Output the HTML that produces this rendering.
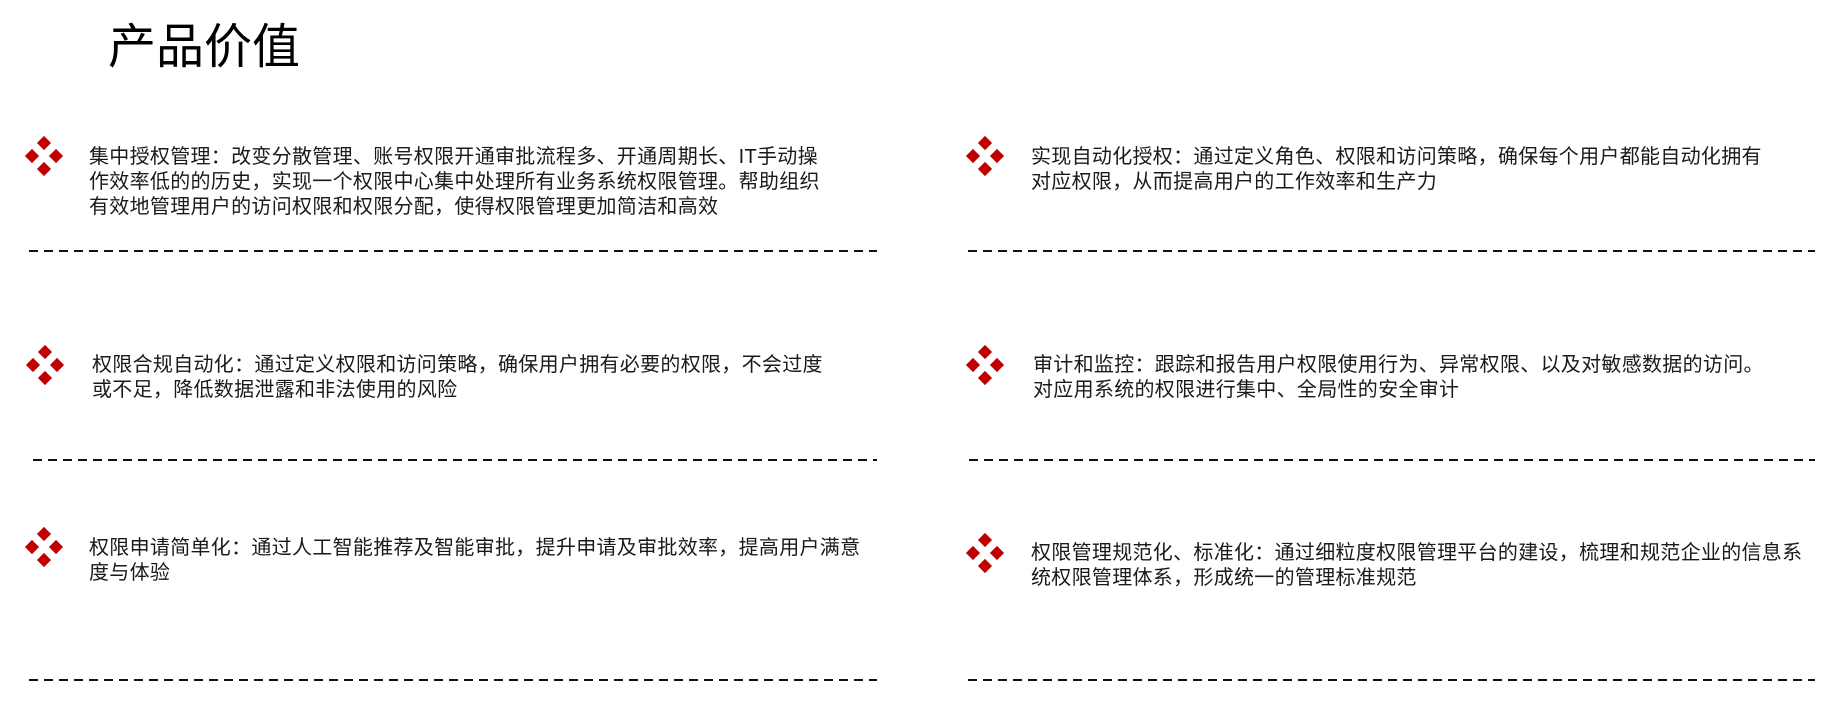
<!DOCTYPE html>
<html><head><meta charset="utf-8"><style>
html,body{margin:0;padding:0;background:#fff;}
body{width:1844px;height:718px;position:relative;overflow:hidden;font-family:"Liberation Sans","Noto Sans CJK SC",sans-serif;color:#1a1a1a;}
.t{position:absolute;left:108px;top:14px;font-size:48px;line-height:68px;color:#000;}
.p{position:absolute;font-size:20px;letter-spacing:0.3px;line-height:25px;white-space:nowrap;}
.d{position:absolute;height:2px;background:repeating-linear-gradient(90deg,#111 0 9px,transparent 9px 15px);}
.ic{position:absolute;width:38px;height:38px;}
.ic i{position:absolute;width:10px;height:10px;background:#c00000;transform:rotate(45deg);}
.ic i:nth-child(1){left:14px;top:1px}
.ic i:nth-child(2){left:2px;top:14px}
.ic i:nth-child(3){left:26px;top:14px}
.ic i:nth-child(4){left:14px;top:27px}
</style></head><body>
<div class="t">产品价值</div>

<div class="ic" style="left:25px;top:137px"><i></i><i></i><i></i><i></i></div>
<div class="p" style="left:89px;top:145px">集中授权管理：改变分散管理、账号权限开通审批流程多、开通周期长、IT手动操<br>作效率低的的历史，实现一个权限中心集中处理所有业务系统权限管理。帮助组织<br>有效地管理用户的访问权限和权限分配，使得权限管理更加简洁和高效</div>
<div class="d" style="left:29px;width:848px;top:250px"></div>

<div class="ic" style="left:26px;top:346px"><i></i><i></i><i></i><i></i></div>
<div class="p" style="left:92px;top:353px">权限合规自动化：通过定义权限和访问策略，确保用户拥有必要的权限，不会过度<br>或不足，降低数据泄露和非法使用的风险</div>
<div class="d" style="left:33px;width:844px;top:459px"></div>

<div class="ic" style="left:25px;top:528px"><i></i><i></i><i></i><i></i></div>
<div class="p" style="left:89px;top:536px">权限申请简单化：通过人工智能推荐及智能审批，提升申请及审批效率，提高用户满意<br>度与体验</div>
<div class="d" style="left:29px;width:848px;top:679px"></div>

<div class="ic" style="left:966px;top:137px"><i></i><i></i><i></i><i></i></div>
<div class="p" style="left:1031px;top:145px">实现自动化授权：通过定义角色、权限和访问策略，确保每个用户都能自动化拥有<br>对应权限，从而提高用户的工作效率和生产力</div>
<div class="d" style="left:968px;width:847px;top:250px"></div>

<div class="ic" style="left:966px;top:346px"><i></i><i></i><i></i><i></i></div>
<div class="p" style="left:1033px;top:353px">审计和监控：跟踪和报告用户权限使用行为、异常权限、以及对敏感数据的访问。<br>对应用系统的权限进行集中、全局性的安全审计</div>
<div class="d" style="left:969px;width:846px;top:459px"></div>

<div class="ic" style="left:966px;top:534px"><i></i><i></i><i></i><i></i></div>
<div class="p" style="left:1031px;top:541px">权限管理规范化、标准化：通过细粒度权限管理平台的建设，梳理和规范企业的信息系<br>统权限管理体系，形成统一的管理标准规范</div>
<div class="d" style="left:968px;width:847px;top:679px"></div>
</body></html>
